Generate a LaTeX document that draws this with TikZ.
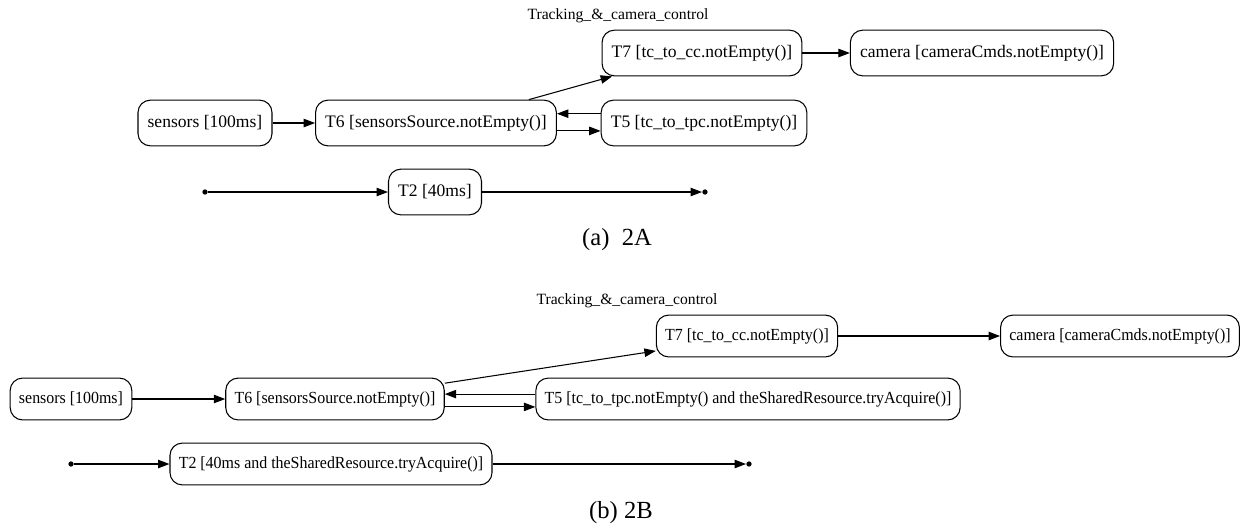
\documentclass[tikz,border=0pt]{standalone}
\usepackage{fontspec}
\setmainfont{Liberation Serif}
\newfontfamily\condfont[FakeStretch=0.94]{Liberation Serif}
\usetikzlibrary{arrows.meta,calc}

\tikzset{
	task/.style={draw, rounded corners=7pt, line width=0.6pt, inner xsep=5.5pt, minimum height=26pt, font=\fontsize{10}{12}\selectfont},
	taskb/.style={task, minimum height=23.8pt, inner xsep=5pt, font=\condfont\fontsize{9.65}{11}\selectfont},
	arr/.style={-{Triangle[length=6.5pt,width=4.8pt]}, line width=0.6pt},
	dot/.style={circle, fill, inner sep=0pt, minimum size=3pt},
	ttl/.style={font=\fontsize{8.9}{10}\selectfont},
	captxt/.style={font=\fontsize{14}{16}\selectfont}
}

\begin{document}
\begin{tikzpicture}[x=0.02cm, y=-0.02cm]
	
	\useasboundingbox (0,0) rectangle (1242,529);
	
	% (a) 2A
	\node[ttl] (a-title) at (618,16) {Tracking\_\&\_camera\_control};
	\node[task] (a-sens) at (205,123) {sensors [100ms]};
	\node[task] (a-t6) at (436,123) {T6 [sensorsSource.notEmpty()]};
	\node[task] (a-t7) at (702,53) {T7 [tc\_to\_cc.notEmpty()]};
	\node[task] (a-cam) at (982,53) {camera [cameraCmds.notEmpty()]};
	\node[task] (a-t5) at (704,123) {T5 [tc\_to\_tpc.notEmpty()]};
	\node[task] (a-t2) at (435,192) {T2 [40ms]};
	\node[dot] (a-in) at (205,192) {};
	\node[dot] (a-out) at (705,192) {};
	
	\draw[arr] (a-sens) -- (a-t6);
	\draw[arr] ([xshift=-16pt]a-t6.north east) -- ([xshift=6pt]a-t7.south west);
	\draw[arr] (a-t7) -- (a-cam);
	\draw[arr] ([yshift=5.3pt]a-t5.west) -- ([yshift=5.3pt]a-t6.east);
	\draw[arr] ([yshift=-4.5pt]a-t6.east) -- ([yshift=-4.5pt]a-t5.west);
	\draw[arr] (a-in) -- (a-t2);
	\draw[arr] (a-t2) -- (a-out);
	
	\node[captxt] (a-cap) at (617,240) {(a)~~2A};
	
	% (b) 2B
	\node[ttl] (b-title) at (627,301) {Tracking\_\&\_camera\_control};
	\node[taskb] (b-sens) at (71,399) {sensors [100ms]};
	\node[taskb] (b-t6) at (335,399) {T6 [sensorsSource.notEmpty()]};
	\node[taskb] (b-t7) at (747,336) {T7 [tc\_to\_cc.notEmpty()]};
	\node[taskb] (b-cam) at (1120,336) {camera [cameraCmds.notEmpty()]};
	\node[taskb] (b-t5) at (748,399) {T5 [tc\_to\_tpc.notEmpty() and theSharedResource.tryAcquire()]};
	\node[taskb] (b-t2) at (331,464) {T2 [40ms and theSharedResource.tryAcquire()]};
	\node[dot] (b-in) at (71,464) {};
	\node[dot] (b-out) at (749,464) {};
	
	\draw[arr] (b-sens) -- (b-t6);
	\draw[arr] ([yshift=9pt]b-t6.east) -- ([yshift=-8.5pt]b-t7.west);
	\draw[arr] (b-t7) -- (b-cam);
	\draw[arr] ([yshift=2.8pt]b-t5.west) -- ([yshift=2.8pt]b-t6.east);
	\draw[arr] ([yshift=-4.5pt]b-t6.east) -- ([yshift=-4.5pt]b-t5.west);
	\draw[arr] (b-in) -- (b-t2);
	\draw[arr] (b-t2) -- (b-out);
	
	\node[captxt] (b-cap) at (621,513) {(b)~2B};
	
\end{tikzpicture}
\end{document}
